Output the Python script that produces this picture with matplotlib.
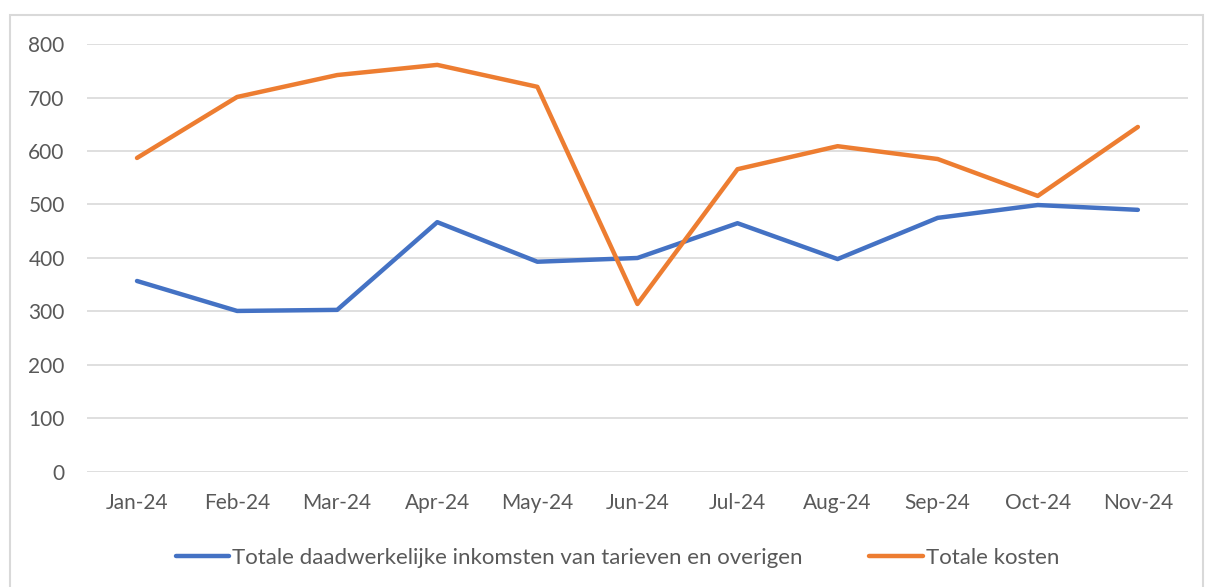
import matplotlib.pyplot as plt
from matplotlib.patches import Rectangle

# Data
maanden = ['Jan-24', 'Feb-24', 'Mar-24', 'Apr-24', 'May-24', 'Jun-24',
           'Jul-24', 'Aug-24', 'Sep-24', 'Oct-24', 'Nov-24']
inkomsten = [357, 301, 303, 467, 393, 400, 465, 398, 475, 499, 490]
kosten = [587, 701, 742, 761, 720, 314, 566, 609, 585, 516, 645]

plt.rcParams['font.family'] = ['Lato', 'DejaVu Sans']
tekst = '#595959'
fs = 15

fig = plt.figure(figsize=(12.06, 5.87), dpi=100)
ax = fig.add_axes([0.0721, 0.196, 0.9129, 0.729])

x = range(len(maanden))
ax.plot(x, inkomsten, color='#4472C4', lw=3.2, solid_capstyle='round',
        label='Totale daadwerkelijke inkomsten van tarieven en overigen')
ax.plot(x, kosten, color='#ED7D31', lw=3.2, solid_capstyle='round',
        label='Totale kosten')

ax.set_xlim(-0.5, len(maanden) - 0.5)
ax.set_ylim(0, 800)
ax.set_yticks(range(0, 801, 100))
ax.set_xticks(list(x))
ax.set_xticklabels(maanden)
ax.grid(axis='y', color='#d9d9d9', lw=1.2)
ax.set_axisbelow(True)
for s in ax.spines.values():
    s.set_visible(False)
ax.tick_params(length=0, colors=tekst, labelsize=fs)
ax.tick_params(axis='y', pad=16)
ax.tick_params(axis='x', pad=15)

fig.legend(loc='center', bbox_to_anchor=(0.512, 0.050), ncol=2, frameon=False,
           fontsize=16, labelcolor=tekst, handlelength=2.4, handletextpad=0.15,
           columnspacing=3.0)

# Kader rond de grafiek
fig.patches.append(Rectangle((10 / 1206, -0.05), 1193 / 1206, 1.05 - 15 / 587,
                             transform=fig.transFigure, fill=False,
                             edgecolor='#d9d9d9', lw=1.5))

fig.savefig('out.png', dpi=100)
